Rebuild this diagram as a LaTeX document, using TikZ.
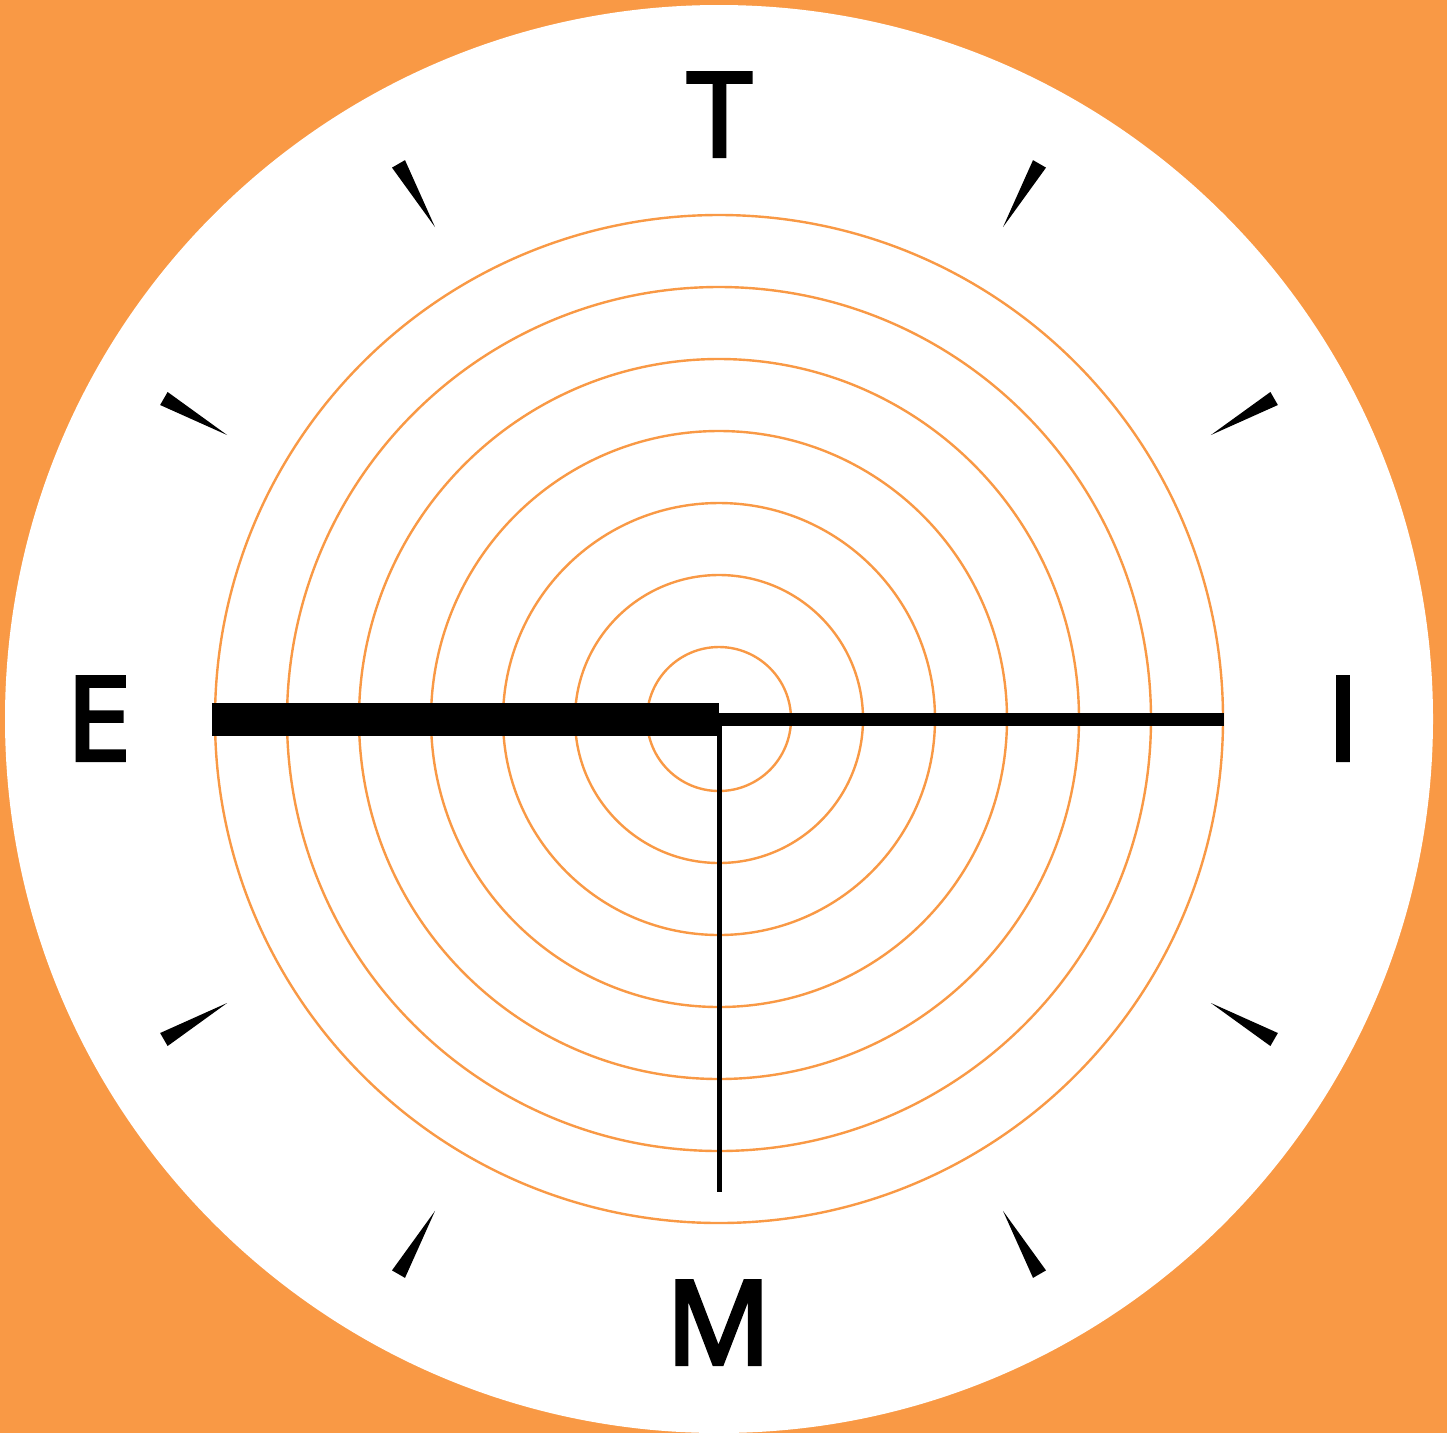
\documentclass[tikz,border=0pt]{standalone}
\usepackage{fontspec}
\newfontfamily\lblfont{Open Sans}[FakeBold=3.5]
\definecolor{bgorange}{RGB}{249,153,69}
\tikzset{
  ring/.style={draw=bgorange, line width=2.4pt},
  letter/.style={anchor=base, inner sep=0pt, font=\lblfont\fontsize{116}{116}\selectfont},
  hand/.style={fill=black, draw=none},
  wedge/.style={fill=black, draw=none}
}
\begin{document}
\begin{tikzpicture}[x=1pt,y=-1pt]
\fill[bgorange] (0,0) rectangle (1447,1433);
\useasboundingbox (0,0) rectangle (1447,1433);
\coordinate (c) at (719,719);
\fill[white] (c) circle (714);
\foreach \r in {72,144,216,288,360,432,504} \draw[ring] (c) circle (\r);
\foreach \a in {30,60,120,150,210,240,300,330}
  \fill[wedge] ({719+568*cos(\a)},{719-568*sin(\a)})
    -- ({719+641*cos(\a)-7.5*sin(\a)},{719-641*sin(\a)-7.5*cos(\a)})
    -- ({719+641*cos(\a)+7.5*sin(\a)},{719-641*sin(\a)+7.5*cos(\a)}) -- cycle;
\fill[hand] (212,703) rectangle (719,736);
\fill[hand] (719,713) rectangle (1224,726);
\fill[hand] (717,726) rectangle (721.5,1192);
\node[letter] (t) at (719.5,156) {T};
\node[letter] (i) at (1343,760) {I};
\node[letter] (m) at (718.5,1364) {M};
\node[letter] (e) at (98.5,760) {E};
\end{tikzpicture}
\end{document}
